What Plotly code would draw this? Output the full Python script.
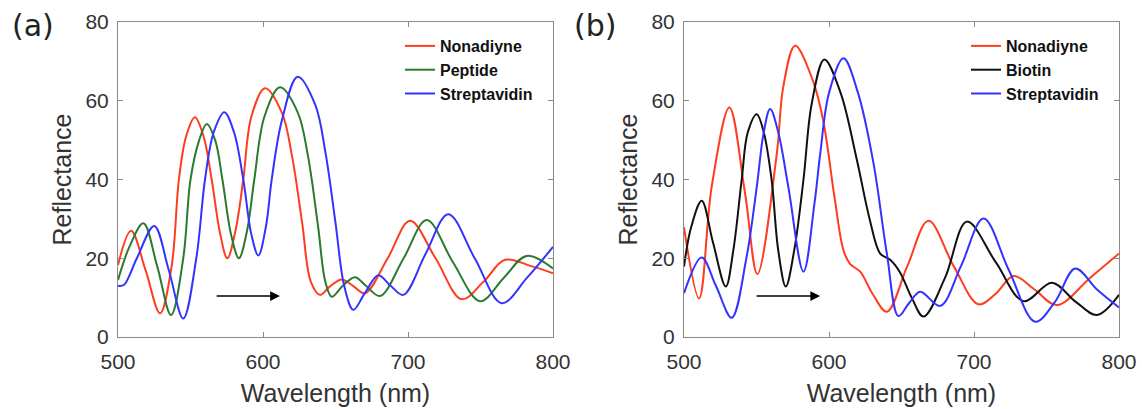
import plotly.graph_objects as go
from plotly.subplots import make_subplots

# ---------------- data: panel (a) ----------------
wl_a_non = [500, 509, 519, 529, 537, 542, 547, 553, 559, 564.6, 570.3, 575.4, 581, 586.4, 592, 601.4,
            613, 620, 627, 633, 639.3, 646, 654.3, 662, 670.3, 686, 701.4, 719, 737, 752, 766.9, 785, 800]
r_a_non = [18.3, 27.0, 17, 6.0, 18, 40, 51, 55.8, 51, 40, 26.5, 20.0, 27, 40, 56, 63.2,
           57, 46, 29, 14, 10.7, 12.8, 14.6, 13, 11.1, 20, 29.5, 20, 9.6, 14, 19.6, 18, 16.2]

wl_a_pep = [500, 508, 517.5, 527, 536.6, 545, 550, 556, 561.2, 567, 572, 578, 583.4, 589, 594, 601, 611.7,
            624, 631, 638, 643, 647.4, 655, 663.4, 671, 680.7, 697, 712.9, 731, 749.7, 766, 781.8, 800]
r_a_pep = [14.5, 23, 28.9, 18, 5.6, 20, 40, 50, 54.1, 50, 40, 26, 20.0, 27, 40, 56, 63.4,
           57, 46, 28, 14, 10.2, 13, 15.2, 13, 10.4, 20, 29.7, 19, 9.1, 15, 20.6, 17.4]

wl_a_str = [500, 504, 513, 525, 535, 545, 554, 560, 566, 573.3, 580, 586.4, 592, 596.8, 602, 606, 613,
            623.9, 636, 643, 650, 656, 662.3, 670, 679.5, 688, 696.8, 712, 727.8, 746, 764.6, 782, 800]
r_a_str = [13.0, 13.2, 20, 28.2, 17, 4.7, 20, 40, 52, 57.1, 52, 40, 26, 20.7, 28, 40, 55,
           66.1, 59, 47, 29, 13, 6.9, 11, 15.7, 13, 10.7, 21, 31.2, 20, 8.6, 15, 22.9]

# ---------------- data: panel (b) ----------------
wl_b_non = [500, 510.4, 519.1, 531.3, 542.1, 550.6, 564, 568.5, 576.6, 589, 596, 604, 610, 614.6,
            621.5, 630, 639.9, 654, 668.6, 686, 703.1, 715, 727.3, 742, 757.2, 780, 800]
r_b_non = [27.9, 9.8, 38.2, 58.3, 36.5, 16.0, 46.6, 63.6, 74.0, 65, 55, 35, 22, 18.5,
           16.6, 11, 6.4, 18, 29.5, 18, 8.3, 11, 15.5, 12, 8.1, 15, 21.2]

wl_b_bio = [500, 505, 512.2, 520, 528.8, 534, 539.8, 544, 550.2, 555, 560.4, 565, 570.2, 576, 582.4,
            588.1, 596.8, 608, 619.2, 628, 635.3, 642.2, 649, 657, 665.2, 680, 695.1, 715, 734.2,
            753.7, 770, 784.8, 800]
r_b_bio = [17.9, 28, 34.6, 24, 12.8, 22, 40, 52, 56.6, 52, 40, 22, 12.8, 22, 40,
           59.3, 70.5, 62, 45, 30, 21.2, 19.6, 16.4, 10, 5.2, 15, 29.3, 19, 9.1,
           13.8, 9, 5.6, 10.7]

wl_b_str = [500, 512.2, 522, 532.9, 543, 550.2, 555, 559.4, 565, 572, 582.4, 590, 594, 600, 610,
            620, 630.7, 639.9, 647.9, 655, 662.9, 676.7, 691, 706.6, 724, 742.2, 756, 769.8, 785, 800]
r_b_str = [11.1, 20.2, 13, 4.9, 20, 38.2, 52, 57.9, 52, 38, 16.6, 34, 46.7, 62, 70.8,
           62, 44.1, 21.2, 5.3, 8.5, 11.5, 7.9, 18, 30.1, 17, 3.9, 9, 17.4, 12, 7.5]

# arrows (start / end wavelength, reflectance level)
arrow_a = (567, 611.7, 10.4)
arrow_b = (549, 593.9, 10.4)

x_ticks = [500, 600, 700, 800]
y_ticks = [0, 20, 40, 60, 80]

RED = "#ff3c1e"
GREEN = "#2a7a30"
BLUE = "#3333ff"
BLACK = "#111111"
AXC = "#8a8a8a"
TXT = "#333333"
FONT = "Liberation Sans, Arial, sans-serif"

fig = make_subplots(rows=1, cols=2)

def add(x, y, name, color, col, legend):
    fig.add_trace(go.Scatter(x=x, y=y, name=name, mode="lines",
                             line=dict(color=color, width=2, shape="spline", smoothing=1.0),
                             legend=legend, showlegend=True), row=1, col=col)

add(wl_a_non, r_a_non, "Nonadiyne", RED, 1, "legend")
add(wl_a_pep, r_a_pep, "Peptide", GREEN, 1, "legend")
add(wl_a_str, r_a_str, "Streptavidin", BLUE, 1, "legend")
add(wl_b_non, r_b_non, "Nonadiyne", RED, 2, "legend2")
add(wl_b_bio, r_b_bio, "Biotin", BLACK, 2, "legend2")
add(wl_b_str, r_b_str, "Streptavidin", BLUE, 2, "legend2")

W, H = 1142, 409
xa_dom = [118 / W, 553 / W]
xb_dom = [684 / W, 1119 / W]
y_dom = [(H - 337) / H, (H - 22) / H]

axis_common = dict(showline=True, linecolor=AXC, linewidth=1, mirror="ticks",
                   ticks="inside", ticklen=5, tickcolor=AXC, tickwidth=1,
                   showgrid=False, zeroline=False, automargin=False,
                   tickfont=dict(family=FONT, size=21, color=TXT))

for i, dom in ((1, xa_dom), (2, xb_dom)):
    xk = "xaxis" if i == 1 else "xaxis2"
    yk = "yaxis" if i == 1 else "yaxis2"
    fig.update_layout({
        xk: dict(axis_common, domain=dom, range=[500, 800], tickvals=x_ticks,
                 ticklabelstandoff=6,
                 title=dict(text="Wavelength (nm)", font=dict(family=FONT, size=25, color=TXT), standoff=12)),
        yk: dict(axis_common, domain=y_dom, range=[0, 80], tickvals=y_ticks,
                 ticklabelstandoff=4,
                 title=dict(text="Reflectance", font=dict(family=FONT, size=25, color=TXT), standoff=6)),
    })

legend_common = dict(bgcolor="rgba(0,0,0,0)", borderwidth=0, xanchor="left", yanchor="top",
                     font=dict(family=FONT, size=16, color="#111111", weight="bold"),
                     tracegroupgap=0, itemwidth=30)
fig.update_layout(
    legend=dict(legend_common, x=400 / W, y=(H - 29) / H),
    legend2=dict(legend_common, x=966 / W, y=(H - 29) / H),
)

for xr, yr, (x0, x1, yy) in (("x", "y", arrow_a), ("x2", "y2", arrow_b)):
    fig.add_annotation(x=x1, y=yy, ax=x0, ay=yy, xref=xr, yref=yr, axref=xr, ayref=yr,
                       showarrow=True, arrowhead=2, arrowsize=1.4, arrowwidth=1.4,
                       arrowcolor="#000000", text="")

fig.add_annotation(text="(a)", x=10 / W, y=(H - 25) / H, xref="paper", yref="paper",
                   xanchor="left", yanchor="middle", showarrow=False,
                   font=dict(family="DejaVu Sans", size=30, color="#222222"))
fig.add_annotation(text="(b)", x=572 / W, y=(H - 25) / H, xref="paper", yref="paper",
                   xanchor="left", yanchor="middle", showarrow=False,
                   font=dict(family="DejaVu Sans", size=30, color="#222222"))

fig.update_layout(width=W, height=H, margin=dict(l=0, r=0, t=0, b=0),
                  paper_bgcolor="white", plot_bgcolor="white", autosize=False)

fig.write_html("out.html")
